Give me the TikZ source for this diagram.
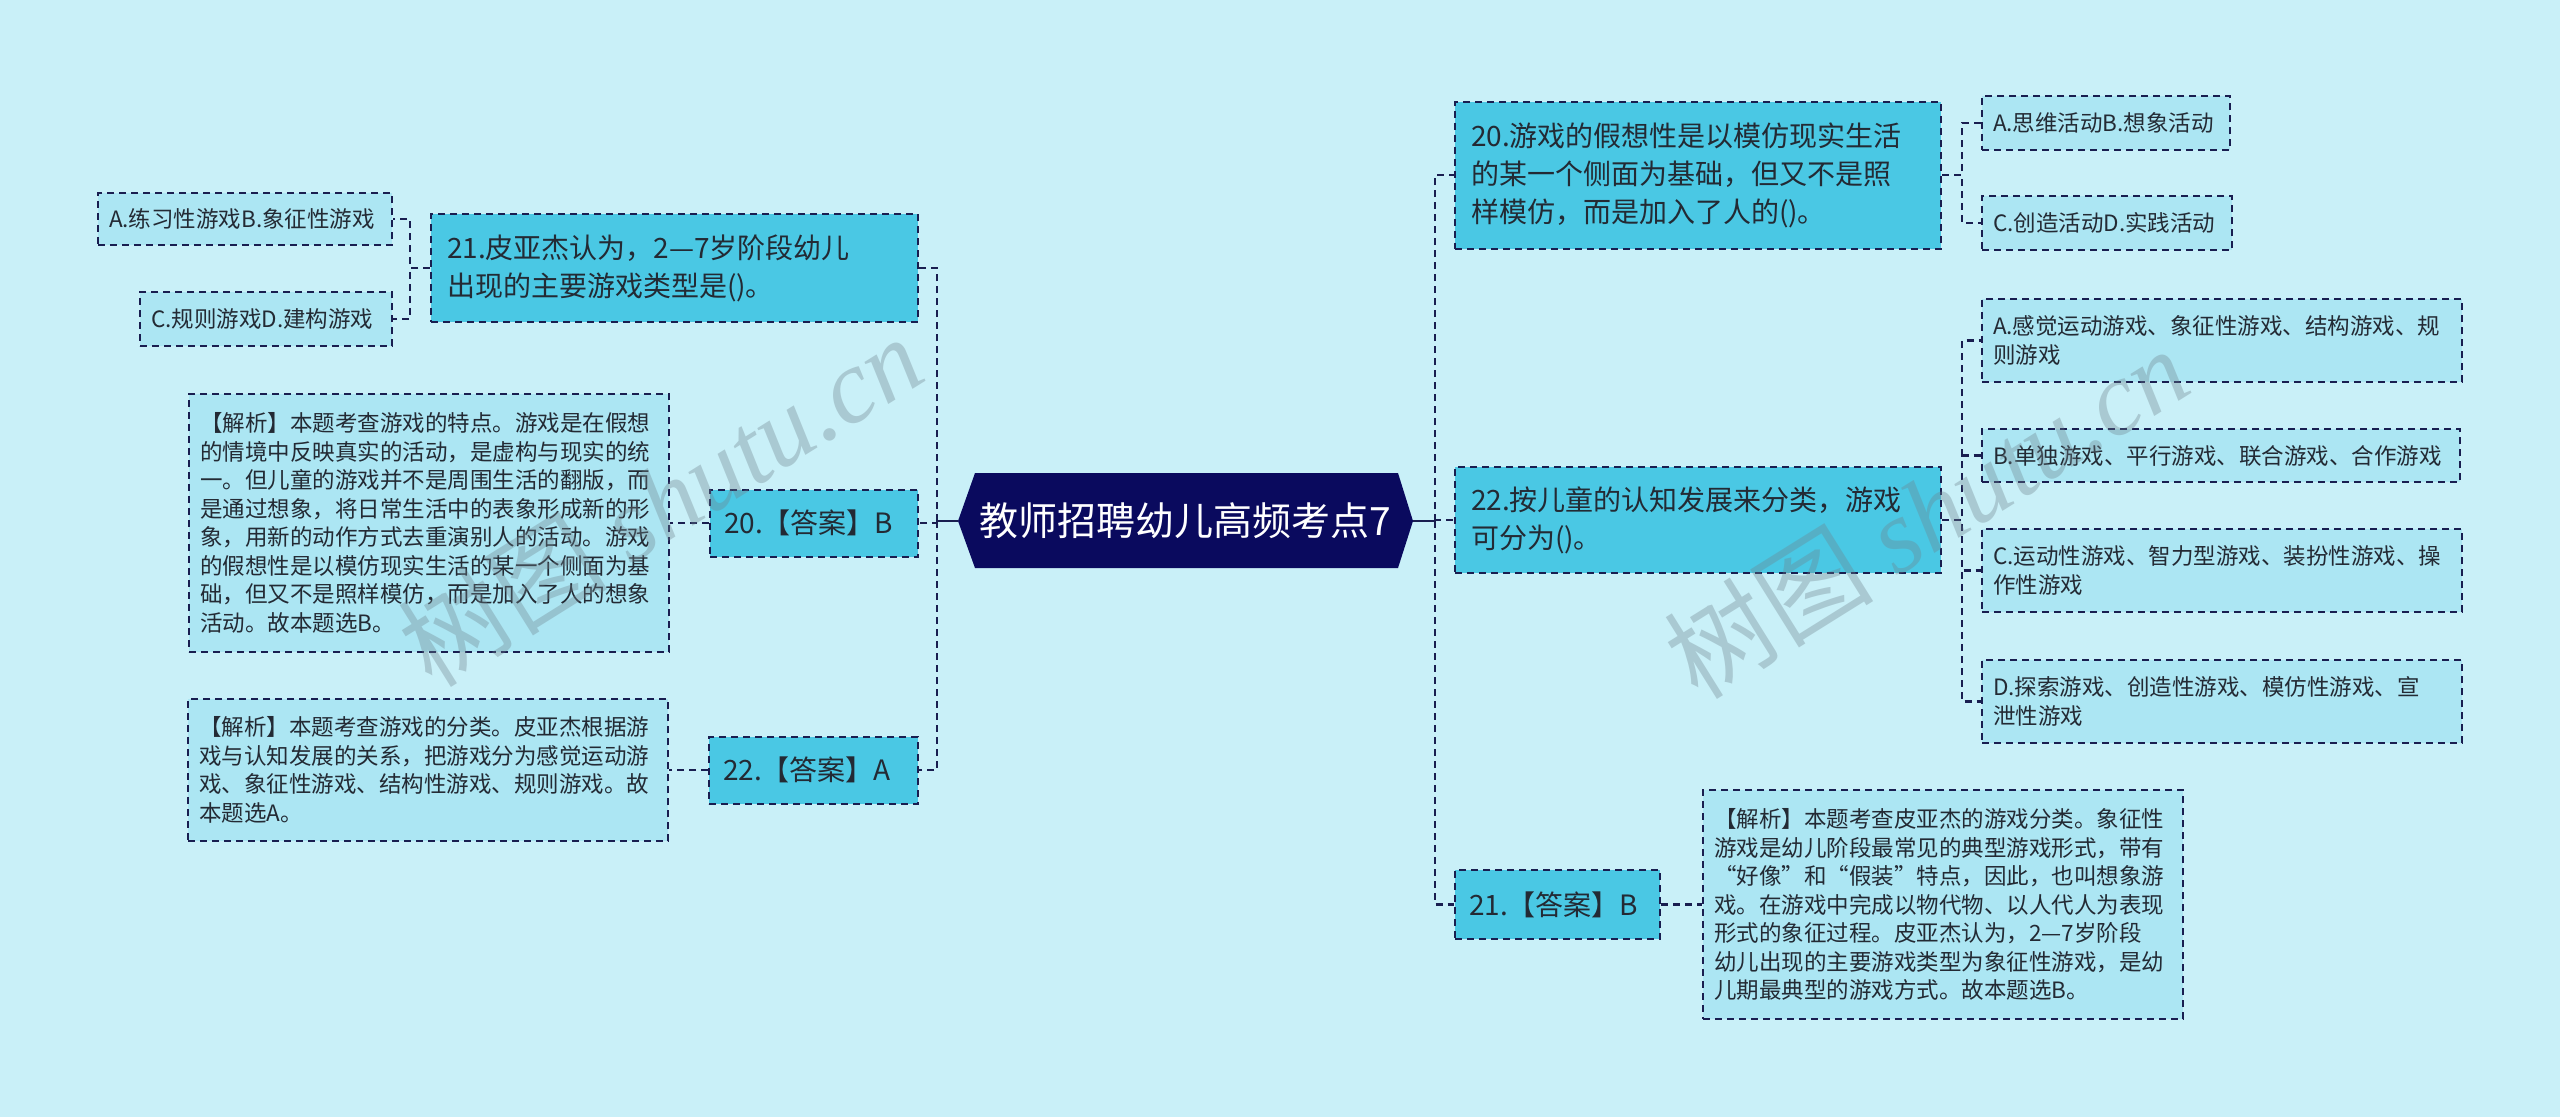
\documentclass[tikz,border=0pt]{standalone}
\usepackage{fontspec}
\setmainfont{Noto Sans CJK SC}
\newfontfamily\wmfont{Liberation Serif}
\definecolor{bgc}{RGB}{201,240,248}
\definecolor{qfill}{RGB}{74,200,228}
\definecolor{leaff}{RGB}{172,230,243}
\definecolor{rootc}{RGB}{10,10,94}
\definecolor{linec}{RGB}{25,30,80}
\definecolor{txtc}{RGB}{35,42,52}
\definecolor{wmc}{RGB}{110,130,140}
\begin{document}
\begin{tikzpicture}[x=1pt,y=-1pt,
  box/.style={draw=linec, line width=2pt, dash pattern=on 7pt off 5pt, text=txtc, inner ysep=0pt, align=left, anchor=center},
  qbox/.style={box, fill=qfill, font=\fontsize{28}{38}\selectfont, inner xsep=16pt},
  ansbox/.style={box, fill=qfill, font=\fontsize{28}{36}\selectfont, inner xsep=14pt},
  leaf/.style={box, fill=leaff, font=\fontsize{22.5}{28.5}\selectfont, inner xsep=11pt},
  conn/.style={draw=linec, line width=2.2pt, dash pattern=on 7pt off 5pt},
  rootline/.style={draw=linec, line width=2.6pt}]
\fill[bgc] (0,0) rectangle (2560,1117);
\useasboundingbox (0,0) rectangle (2560,1117);

% root
\fill[rootc] (958,521) -- (975,473) -- (1398,473) -- (1413,521) -- (1398,568) -- (975,568) -- cycle;
\node[text=white, font=\fontsize{39}{44}\selectfont, minimum width=455pt, minimum height=95pt, inner sep=0pt] (root) at (1185.5,521) {教师招聘幼儿高频考点7};

% left side
\node[qbox, minimum width=487pt, minimum height=108pt, text width=455pt] (q21) at (674.5,268)
  {21.皮亚杰认为，2—7岁阶段幼儿\\出现的主要游戏类型是()。};
\node[leaf, minimum width=294pt, minimum height=52pt, text width=272pt] (oAl) at (245,219) {A.练习性游戏B.象征性游戏};
\node[leaf, minimum width=252pt, minimum height=54pt, text width=230pt] (oCl) at (266,319) {C.规则游戏D.建构游戏};
\node[ansbox, minimum width=208pt, minimum height=67pt, text width=180pt] (ans20) at (814,523) {20.【答案】B};
\node[leaf, minimum width=480pt, minimum height=258pt, text width=458pt] (ana20) at (429,523)
  {【解析】本题考查游戏的特点。游戏是在假想\\的情境中反映真实的活动，是虚构与现实的统\\一。但儿童的游戏并不是周围生活的翻版，而\\是通过想象，将日常生活中的表象形成新的形\\象，用新的动作方式去重演别人的活动。游戏\\的假想性是以模仿现实生活的某一个侧面为基\\础，但又不是照样模仿，而是加入了人的想象\\活动。故本题选B。};
\node[ansbox, minimum width=209pt, minimum height=67pt, text width=181pt] (ans22) at (813.5,770) {22.【答案】A};
\node[leaf, minimum width=480pt, minimum height=142pt, text width=458pt] (ana22) at (428,770)
  {【解析】本题考查游戏的分类。皮亚杰根据游\\戏与认知发展的关系，把游戏分为感觉运动游\\戏、象征性游戏、结构性游戏、规则游戏。故\\本题选A。};

% right side
\node[qbox, minimum width=486pt, minimum height=147pt, text width=454pt] (q20) at (1698,175)
  {20.游戏的假想性是以模仿现实生活\\的某一个侧面为基础，但又不是照\\样模仿，而是加入了人的()。};
\node[leaf, minimum width=248pt, minimum height=54pt, text width=226pt] (o20a) at (2106,123) {A.思维活动B.想象活动};
\node[leaf, minimum width=250pt, minimum height=54pt, text width=228pt] (o20c) at (2107,223) {C.创造活动D.实践活动};
\node[qbox, minimum width=486pt, minimum height=106pt, text width=454pt] (q22) at (1698,520)
  {22.按儿童的认知发展来分类，游戏\\可分为()。};
\node[leaf, minimum width=480pt, minimum height=83pt, text width=458pt] (o22a) at (2222,340.5)
  {A.感觉运动游戏、象征性游戏、结构游戏、规\\则游戏};
\node[leaf, minimum width=478pt, minimum height=53pt, text width=456pt] (o22b) at (2221,455.5)
  {B.单独游戏、平行游戏、联合游戏、合作游戏};
\node[leaf, minimum width=480pt, minimum height=83pt, text width=458pt] (o22c) at (2222,570.5)
  {C.运动性游戏、智力型游戏、装扮性游戏、操\\作性游戏};
\node[leaf, minimum width=480pt, minimum height=83pt, text width=458pt] (o22d) at (2222,701.5)
  {D.探索游戏、创造性游戏、模仿性游戏、宣\\泄性游戏};
\node[ansbox, minimum width=205pt, minimum height=69pt, text width=177pt] (ans21) at (1557.5,904.5) {21.【答案】B};
\node[leaf, minimum width=480pt, minimum height=229pt, text width=458pt] (ana21) at (1943,904.5)
  {【解析】本题考查皮亚杰的游戏分类。象征性\\游戏是幼儿阶段最常见的典型游戏形式，带有\\“好像”和“假装”特点，因此，也叫想象游\\戏。在游戏中完成以物代物、以人代人为表现\\形式的象征过程。皮亚杰认为，2—7岁阶段\\幼儿出现的主要游戏类型为象征性游戏，是幼\\儿期最典型的游戏方式。故本题选B。};

% connectors
\coordinate (LT) at (937,521);
\coordinate (RT) at (1435,521);
\draw[rootline] (root.west) -- (LT);
\draw[rootline] (root.east) -- (RT);
\draw[conn] (LT) |- (q21.east);
\draw[conn] (LT) |- (ans20.east);
\draw[conn] (LT) |- (ans22.east);
\coordinate (LQ) at (410,268);
\draw[conn] (q21.west) -- (LQ) |- (oAl.east);
\draw[conn] (q21.west) -- (LQ) |- (oCl.east);
\draw[conn] (ans20.west) -- (ana20.east);
\draw[conn] (ans22.west) -- (ana22.east);

\draw[conn] (RT) |- (q20.west);
\draw[conn] (RT) |- (q22.west);
\draw[conn] (RT) |- (ans21.west);
\coordinate (R20) at (1962,175);
\draw[conn] (q20.east) -- (R20) |- (o20a.west);
\draw[conn] (q20.east) -- (R20) |- (o20c.west);
\coordinate (R22) at (1962,520);
\draw[conn] (q22.east) -- (R22) |- (o22a.west);
\draw[conn] (q22.east) -- (R22) |- (o22b.west);
\draw[conn] (q22.east) -- (R22) |- (o22c.west);
\draw[conn] (q22.east) -- (R22) |- (o22d.west);
\draw[conn] (ans21.east) -- (ana21.west);

% watermarks
\node[rotate=32, text=wmc, opacity=0.35, font=\fontsize{105}{110}\selectfont] (wm1) at (660,500) {树图 {\wmfont\itshape shutu.cn}};
\node[rotate=32, text=wmc, opacity=0.35, font=\fontsize{105}{110}\selectfont] (wm2) at (1926,512) {树图 {\wmfont\itshape shutu.cn}};
\end{tikzpicture}
\end{document}
